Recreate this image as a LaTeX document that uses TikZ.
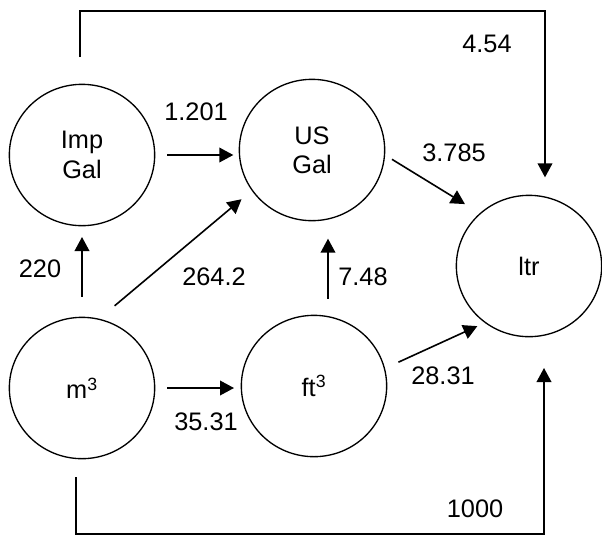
\documentclass[tikz,border=0pt]{standalone}
\usepackage{fontspec}
\setmainfont{Liberation Sans}
\usetikzlibrary{arrows.meta,shapes.geometric}

\tikzset{every picture/.style={line width=0.75pt}}

\begin{document}
\begin{tikzpicture}[x=0.75pt,y=0.75pt,yscale=-1,xscale=1,
	unit/.style={draw,ellipse,line width=1pt,minimum width=109pt,minimum height=106pt,inner sep=0pt,align=center,font=\fontsize{19}{22}\selectfont},
	conv/.style={line width=1.2pt,-{Triangle[length=10.5pt,width=11pt]}},
	factor/.style={inner sep=0pt,font=\fontsize{19}{22}\selectfont}]
	\useasboundingbox (0,0) rectangle (602,536);

	%Shape: Circle
	\node[unit] (imp) at (82,155) {Imp\\Gal};
	%Shape: Circle
	\node[unit] (us) at (312,150) {US\\Gal};
	%Shape: Circle
	\node[unit] (ltr) at (529,266) {ltr};
	%Shape: Circle
	\node[unit] (m3) at (82,388) {m\textsuperscript{3}};
	%Shape: Circle
	\node[unit] (ft) at (314,386) {ft\textsuperscript{3}};

	%Levels of the two long lines
	\coordinate (topy) at (0,11);
	\coordinate (boty) at (0,534);

	%Straight Lines
	\draw[conv, shorten <=9pt, shorten >=4pt] (imp.east) -- (imp.east -| us.west);
	%Straight Lines
	\draw[conv, shorten <=15pt, shorten >=8pt] (m3.north) -- (imp.south);
	%Straight Lines
	\draw[conv, shorten <=15pt, shorten >=10pt] (m3.76) -- (us.214);
	%Straight Lines
	\draw[conv, shorten <=9pt, shorten >=5pt] (m3.east) -- (m3.east -| ft.west);
	%Straight Lines
	\draw[conv, shorten <=12pt, shorten >=13pt] ([xshift=10.5pt]ft.north) -- ([xshift=12pt]us.south);
	%Straight Lines
	\draw[conv, shorten <=6pt, shorten >=13pt] (us.-4) -- (ltr.133);
	%Straight Lines
	\draw[conv, shorten <=11pt, shorten >=6pt] (ft.14) -- (ltr.232);
	%Straight Lines
	\draw[conv, shorten <=20pt, shorten >=13pt] ([xshift=-1.5pt]imp.north) -- ([xshift=-1.5pt]imp.north |- topy) -| ([xshift=12pt]ltr.north);
	%Straight Lines
	\draw[conv, shorten <=13.5pt, shorten >=23pt] ([xshift=-4.5pt]m3.south) -- ([xshift=-4.5pt]m3.south |- boty) -| ([xshift=11.25pt]ltr.south);

	% Text Node
	\node[factor] (f1201) at (196,112) {1.201};
	% Text Node
	\node[factor] (f454) at (487,44) {4.54};
	% Text Node
	\node[factor] (f3785) at (454,153) {3.785};
	% Text Node
	\node[factor] (f220) at (40,269) {220};
	% Text Node
	\node[factor] (f2642) at (214,277) {264.2};
	% Text Node
	\node[factor] (f748) at (363,277) {7.48};
	% Text Node
	\node[factor] (f2831) at (443,376) {28.31};
	% Text Node
	\node[factor] (f3531) at (206,422) {35.31};
	% Text Node
	\node[factor] (f1000) at (475,509) {1000};

\end{tikzpicture}
\end{document}
